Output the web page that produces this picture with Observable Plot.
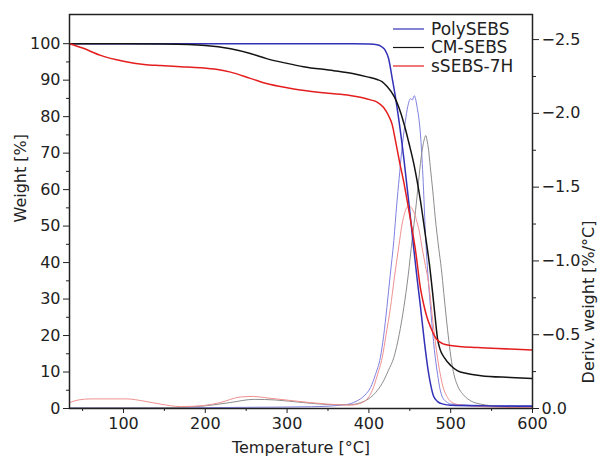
<!DOCTYPE html>
<html>
<head>
<meta charset="utf-8">
<script src="https://cdn.jsdelivr.net/npm/d3@7"></script>
<script src="https://cdn.jsdelivr.net/npm/@observablehq/plot@0.6"></script>
<style>
  body { margin: 0; background: #fff; }
  #chart { width: 600px; height: 463px; }
</style>
</head>
<body>
<div id="chart"></div>
<script>
// ---- Data ----
const seriesNames = ["PolySEBS", "CM-SEBS", "sSEBS-7H"];

// TG curves: weight [%] vs temperature [°C]
const polyTemp   = [34,100,200,300,380,400,410,416,420,424,428.5,432,437,443,449,455,459,463,468,473,476,479,484,491,500,550,600];
const polyWeight = [100,100,100,100,100,99.9,99.7,99.1,98.2,96,90.5,86,78.5,68,56,43.5,35.5,28,18,9.6,6,3.4,1.9,1.2,0.9,0.7,0.6];

const cmTemp   = [34,100,150,200,231,255,275,300,320,357,380,398,410,416,422,431,437,443,449,455,463,470,474,478,481,484,487,492,500,508,520,537,573,600];
const cmWeight = [100,100,99.9,99.5,98.6,97.3,95.9,94.6,93.7,92.6,91.8,90.9,90.2,89.6,88.3,85.5,82.3,78,72.7,67,57,46,39.5,31.5,25,19,16.2,14,11.8,10.4,9.6,9,8.5,8.2];

const sTemp   = [34,50,72,100,125,145,170,194,215,231,255,276,300,316,350,377,402,410,418,424,428.5,432,435,438,442.7,451,457,463,467,471,475.6,480,484,490,500,533,573,600];
const sWeight = [100,98.8,96.8,95.2,94.3,94,93.7,93.4,92.9,92.2,90.5,89,87.9,87.3,86.4,85.8,84.6,84,82.5,80.3,77.8,74,70.5,67,62,51.5,43.3,33,28.5,25,22.2,20,18.7,17.8,17.3,16.7,16.3,16.0];

// DTG curves: deriv. weight [%/°C] vs temperature [°C]
const polyDerivTemp = [34,150,250,330,370,385,395,402,408,414,418,422,426,430.5,434,437,440,443,446,449,451,453,455.5,457,459,461,463,466,469.5,472.5,476,480,484,487,490,495,500,550,600];
const polyDeriv     = [-0.005,-0.005,-0.008,-0.012,-0.025,-0.05,-0.09,-0.142,-0.23,-0.346,-0.49,-0.685,-0.9,-1.14,-1.38,-1.56,-1.74,-1.88,-2.0,-2.08,-2.1,-2.09,-2.12,-2.1,-2.04,-1.97,-1.86,-1.58,-1.14,-0.88,-0.64,-0.4,-0.23,-0.13,-0.075,-0.045,-0.03,-0.02,-0.02];

const cmDerivTemp = [34,150,180,200,230,260,285,320,350,375,390,402,410,418,424,430.5,437,442.7,448,452.8,457,460,463,466,468,469.5,471,473,475,478,481,485.5,488.5,491.6,494.5,497.7,501,504,508,516,525,536.5,560,600];
const cmDeriv     = [-0.003,-0.005,-0.01,-0.018,-0.04,-0.062,-0.058,-0.04,-0.027,-0.025,-0.04,-0.075,-0.12,-0.188,-0.26,-0.346,-0.5,-0.685,-0.9,-1.14,-1.34,-1.5,-1.66,-1.78,-1.83,-1.85,-1.82,-1.75,-1.64,-1.48,-1.3,-1.08,-0.95,-0.78,-0.62,-0.46,-0.32,-0.23,-0.16,-0.09,-0.05,-0.03,-0.015,-0.01];

const sDerivTemp = [34,45,60,104,125,145,170,198,218,243,259,275,308,349,377,392,400,404,410,416.3,421,426.4,431,436.6,440.6,444,448.8,452,455,459,462,465,469,473,478,484,490,496,502,510,550,600];
const sDeriv     = [-0.04,-0.058,-0.065,-0.065,-0.05,-0.03,-0.013,-0.02,-0.04,-0.078,-0.082,-0.072,-0.052,-0.03,-0.023,-0.04,-0.08,-0.12,-0.22,-0.346,-0.5,-0.685,-0.88,-1.1,-1.25,-1.33,-1.375,-1.36,-1.33,-1.26,-1.19,-1.09,-0.97,-0.85,-0.6,-0.34,-0.16,-0.075,-0.04,-0.025,-0.01,-0.005];

// Axes
const xDomain = [34, 600];
const weightDomain = [0, 108];
const derivTop = -2.67;
const xTicks = [100, 200, 300, 400, 500, 600];
const xMinorTicks = [50, 150, 250, 350, 450, 550];
const weightTicks = [0, 10, 20, 30, 40, 50, 60, 70, 80, 90, 100];
const weightMinorTicks = [5, 15, 25, 35, 45, 55, 65, 75, 85, 95];
const derivTicks = [0, -0.5, -1.0, -1.5, -2.0, -2.5];
const derivMinorTicks = [-0.25, -0.75, -1.25, -1.75, -2.25];

// Styles
const thickColors = {"PolySEBS": "#3232b8", "CM-SEBS": "#141414", "sSEBS-7H": "#e41e1e"};
const thinColors  = {"PolySEBS": "#8080e2", "CM-SEBS": "#8c8c8c", "sSEBS-7H": "#f09090"};

// Scale factor mapping the right (derivative) axis onto the left y scale
const K = weightDomain[1] / (-derivTop);

const zip = (ts, vs, name, f) => ts.map((t, i) => ({T: t, Y: f(vs[i]), series: name}));
const tg = {
  "PolySEBS": zip(polyTemp, polyWeight, "PolySEBS", v => v),
  "CM-SEBS": zip(cmTemp, cmWeight, "CM-SEBS", v => v),
  "sSEBS-7H": zip(sTemp, sWeight, "sSEBS-7H", v => v)
};
const dtg = {
  "PolySEBS": zip(polyDerivTemp, polyDeriv, "PolySEBS", v => -v * K),
  "CM-SEBS": zip(cmDerivTemp, cmDeriv, "CM-SEBS", v => -v * K),
  "sSEBS-7H": zip(sDerivTemp, sDeriv, "sSEBS-7H", v => -v * K)
};

const fmtDeriv = y => {
  const v = Math.round(-y / K * 10) / 10;
  return v === 0 ? "0.0" : "\u2212" + Math.abs(v).toFixed(1);
};

const plot = Plot.plot({
  width: 600,
  height: 463,
  marginLeft: 69,
  marginRight: 68,
  marginTop: 14,
  marginBottom: 55,
  style: {fontFamily: "DejaVu Sans", fontSize: "16px", color: "#222", background: "#fff"},
  x: {domain: xDomain},
  y: {domain: weightDomain},
  marks: [
    ...seriesNames.map(s => Plot.line(dtg[s], {x: "T", y: "Y", stroke: thinColors[s], strokeWidth: 1, curve: "monotone-x", clip: true})),
    ...seriesNames.map(s => Plot.line(tg[s], {x: "T", y: "Y", stroke: thickColors[s], strokeWidth: 1.5, curve: "monotone-x", clip: true})),
    Plot.axisX({ticks: xTicks, tickSize: 5, tickPadding: 4, label: null, tickFormat: d => String(d)}),
    Plot.axisX({ticks: xMinorTicks, tickSize: 3, label: null, tickFormat: () => ""}),
    Plot.axisY({ticks: weightTicks, tickSize: 6, tickPadding: 3, label: null, tickFormat: d => String(d)}),
    Plot.axisY({ticks: weightMinorTicks, tickSize: 3, label: null, tickFormat: () => ""}),
    Plot.axisY({anchor: "right", ticks: derivTicks.map(v => -v * K), tickSize: 6, tickPadding: 3, label: null, tickFormat: fmtDeriv}),
    Plot.axisY({anchor: "right", ticks: derivMinorTicks.map(v => -v * K), tickSize: 3, label: null, tickFormat: () => ""}),
    Plot.frame({stroke: "#222", strokeWidth: 1.5}),
    Plot.text(["Temperature [°C]"], {frameAnchor: "bottom", dy: 44, fill: "#222"}),
    Plot.text(["Weight [%]"], {frameAnchor: "left", dx: -49, dy: 11, rotate: -90, fill: "#222"}),
    Plot.text(["Deriv. weight [%/°C]"], {frameAnchor: "right", dx: 56, dy: 9, rotate: -90, fill: "#222"})
  ]
});

// Legend inside the plot (top right)
const svg = d3.select(plot);
const lg = svg.append("g")
  .attr("font-family", "DejaVu Sans")
  .attr("font-size", 17)
  .attr("fill", "#222")
  .attr("text-anchor", "start");
seriesNames.forEach((s, i) => {
  const y = 29 + i * 18.5;
  lg.append("line").attr("x1", 393).attr("x2", 424).attr("y1", y).attr("y2", y)
    .attr("stroke", thickColors[s]).attr("stroke-width", 1.2);
  lg.append("text").attr("x", 431).attr("y", y).attr("dy", "0.35em")
    .attr("text-anchor", "start").text(s);
});

document.getElementById("chart").append(plot);
</script>
</body>
</html>
